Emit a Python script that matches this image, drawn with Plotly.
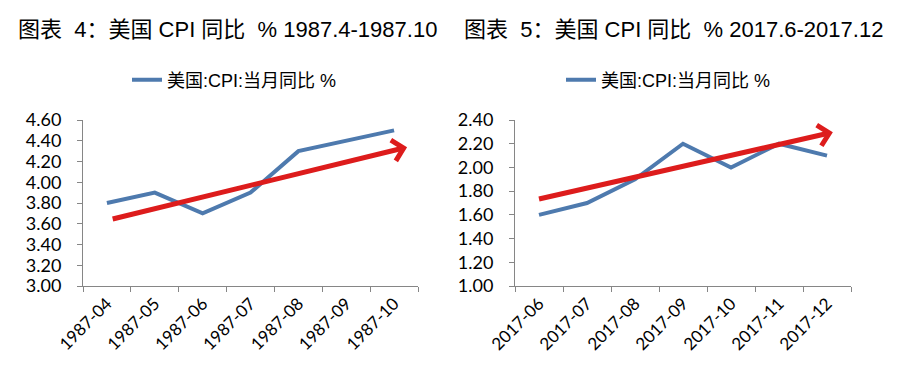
import math
import plotly.graph_objects as go

# ---------------- data ----------------
months_1987 = ["1987-04", "1987-05", "1987-06", "1987-07", "1987-08", "1987-09", "1987-10"]
cpi_1987 = [3.8, 3.9, 3.7, 3.9, 4.3, 4.4, 4.5]
trend_1987_x = [0.12, 6.2]
trend_1987_y = [3.646, 4.33]

months_2017 = ["2017-06", "2017-07", "2017-08", "2017-09", "2017-10", "2017-11", "2017-12"]
cpi_2017 = [1.6, 1.7, 1.9, 2.2, 2.0, 2.2, 2.1]
trend_2017_x = [0.0, 6.05]
trend_2017_y = [1.734, 2.29]

series_name = "美国:CPI:当月同比 %"
title_left = "图表  4：美国 CPI 同比  % 1987.4-1987.10"
title_right = "图表  5：美国 CPI 同比  % 2017.6-2017.12"

# ---------------- layout constants ----------------
W, H = 904, 376
BLUE = "#4E7AAE"
RED = "#DD1C1C"
AX = "#868686"
CJK = "Liberation Sans, Noto Sans CJK SC, sans-serif"
TICKF = "Lato, Noto Sans CJK SC, sans-serif"

left_px = (83, 418)
right_px = (515, 851)
top_px, bot_px = 120, 286
ydom = [1 - bot_px / H, 1 - top_px / H]
yr_left = (3.0, 4.6)
yr_right = (1.0, 2.4)

fig = go.Figure()


def chevron(xs, ys, xpx, yrng, arm=15, half_angle=45):
    """Arrow head arms computed from the trend end point in pixel space."""
    sx = (xpx[1] - xpx[0]) / 7.0
    sy = (bot_px - top_px) / (yrng[1] - yrng[0])
    dx = (xs[1] - xs[0]) * sx
    dy = (ys[1] - ys[0]) * sy
    ang = math.atan2(dy, dx)
    out_x, out_y = [], []
    for s in (+1, -1):
        a = ang + math.pi + s * math.radians(half_angle)
        out_x.append(xs[1] + arm * math.cos(a) / sx)
        out_y.append(ys[1] + arm * math.sin(a) / sy)
    return [out_x[0], xs[1], out_x[1]], [out_y[0], ys[1], out_y[1]]


for i, (months, vals, tx, ty, xpx, yr) in enumerate([
    (months_1987, cpi_1987, trend_1987_x, trend_1987_y, left_px, yr_left),
    (months_2017, cpi_2017, trend_2017_x, trend_2017_y, right_px, yr_right),
]):
    xa = "x" if i == 0 else "x2"
    ya = "y" if i == 0 else "y2"
    leg = "legend" if i == 0 else "legend2"
    fig.add_trace(go.Scatter(
        x=list(range(len(months))), y=vals, mode="lines",
        line=dict(color=BLUE, width=4), name=series_name,
        xaxis=xa, yaxis=ya, legend=leg, showlegend=True,
    ))
    fig.add_trace(go.Scatter(
        x=tx, y=ty, mode="lines", line=dict(color=RED, width=5),
        xaxis=xa, yaxis=ya, showlegend=False, hoverinfo="skip",
    ))
    cx, cy = chevron(tx, ty, xpx, yr)
    fig.add_trace(go.Scatter(
        x=cx, y=cy, mode="lines", line=dict(color=RED, width=5),
        xaxis=xa, yaxis=ya, showlegend=False, hoverinfo="skip",
    ))


def xaxis_cfg(xpx, months, anchor):
    return dict(
        domain=[xpx[0] / W, xpx[1] / W], anchor=anchor, automargin=False,
        range=[-0.5, 6.5], tickmode="array",
        tickvals=list(range(len(months))), ticktext=months,
        tickangle=-45, ticks="", showgrid=False, zeroline=False,
        showline=True, linecolor=AX, linewidth=1,
        tickfont=dict(family=TICKF, size=17, color="#000000"),
        minor=dict(tick0=-0.5, dtick=1, ticks="outside", ticklen=5,
                   tickcolor=AX, tickwidth=1, showgrid=False),
    )


def yaxis_cfg(yr, anchor):
    return dict(
        domain=ydom, anchor=anchor, automargin=False, range=list(yr), dtick=0.2,
        tick0=yr[0], tickformat=".2f", ticks="outside", ticklen=5,
        tickcolor=AX, showgrid=False, zeroline=False, showline=True,
        linecolor=AX, linewidth=1, ticklabelstandoff=12,
        tickfont=dict(family=TICKF, size=18, color="#000000"),
    )


fig.update_layout(
    width=W, height=H, margin=dict(l=0, r=0, t=0, b=0, autoexpand=False),
    paper_bgcolor="white", plot_bgcolor="white",
    xaxis=xaxis_cfg(left_px, months_1987, "y"),
    yaxis=yaxis_cfg(yr_left, "x"),
    xaxis2=xaxis_cfg(right_px, months_2017, "y2"),
    yaxis2=yaxis_cfg(yr_right, "x2"),
    legend=dict(x=127 / W, y=1 - 80 / H, xanchor="left", yanchor="middle",
                orientation="h", bgcolor="rgba(0,0,0,0)",
                font=dict(family=CJK, size=18, color="#000000")),
    legend2=dict(x=561 / W, y=1 - 80 / H, xanchor="left", yanchor="middle",
                 orientation="h", bgcolor="rgba(0,0,0,0)",
                 font=dict(family=CJK, size=18, color="#000000")),
    annotations=[
        dict(text=title_left, x=16 / W, y=1 - 30 / H, xref="paper", yref="paper",
             xanchor="left", yanchor="middle", showarrow=False,
             font=dict(family=CJK, size=22, color="#000000")),
        dict(text=title_right, x=462 / W, y=1 - 30 / H, xref="paper", yref="paper",
             xanchor="left", yanchor="middle", showarrow=False,
             font=dict(family=CJK, size=22, color="#000000")),
    ],
)

fig.write_html("out.html", config={"displayModeBar": False},
               post_script="document.body.style.margin='0';")
